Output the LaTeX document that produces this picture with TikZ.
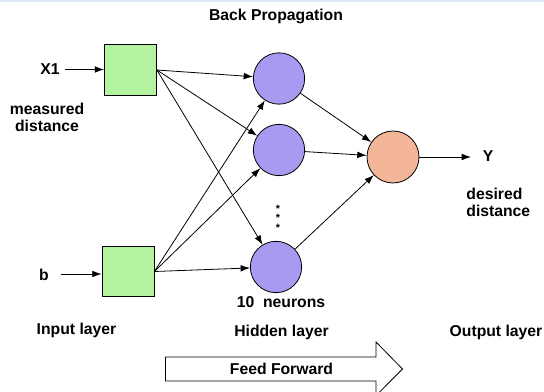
\documentclass[tikz,border=0pt]{standalone}
\usepackage{fontspec}
\setmainfont{Liberation Sans}
\usetikzlibrary{arrows.meta,positioning}
\definecolor{nnGreen}{HTML}{B4F4A0}
\definecolor{nnViolet}{HTML}{A89AF0}
\definecolor{nnSalmon}{HTML}{F4B698}
\definecolor{nnEdge}{HTML}{DDE8F4}

\begin{document}
\begin{tikzpicture}[x=0.75pt,y=-0.75pt,
      inp/.style={draw,fill=nnGreen,minimum width=39pt,minimum height=38pt,inner sep=0pt},
      hid/.style={draw,circle,fill=nnViolet,minimum size=38.5pt,inner sep=0pt},
      outn/.style={draw,circle,fill=nnSalmon,minimum size=39pt,inner sep=0pt},
      lbl/.style={font=\fontsize{11.8}{12.75}\selectfont\bfseries,inner sep=0pt,align=center},
      dotmark/.style={font=\fontsize{8}{8}\selectfont\bfseries,inner sep=0pt},
      wire/.style={-{Latex[length=7pt,width=5pt]},line width=0.6pt},
      line width=0.6pt]
    \useasboundingbox (0,0) rectangle (544,392);
    \fill[nnEdge] (0,0) rectangle (544,2);
    % layers
    \node[inp] (x1) at (130.5,70) {};
    \node[inp] (b) at (128,271.5) {};
    \node[hid] (h1) at (279,78.5) {};
    \node[hid] (h2) at (279,150) {};
    \node[hid] (h3) at (276,267) {};
    \node[outn] (out) at (393,157) {};
    % texts
    \node[lbl] (title) at (276,16) {Back Propagation};
    \node[lbl] (x1lbl) at (50,69) {X1};
    \node[lbl] (meas) at (47,117.5) {measured\\distance};
    \node[lbl] (blbl) at (44,275) {b};
    \node[lbl] (ylbl) at (488,156) {Y};
    \node[lbl,align=left,anchor=west] (des) at (466,202) {desired\\distance};
    \foreach \y/\n in {208.5/1,218/2,227.5/3}
      \node[dotmark] (dot\n) at (278,\y) {*};
    \node[lbl] (nn) at (281,302) {10~~neurons};
    \node[lbl] (inl) at (76.5,330) {Input layer};
    \node[lbl] (hidl) at (281.5,332) {Hidden layer};
    \node[lbl] (outl) at (496,332) {Output layer};
    % inputs and output
    \coordinate (x1in) at (65,69.5);
    \coordinate (bin) at (61,274);
    \coordinate (yout) at (471,157);
    \draw[wire] (x1in) -- (x1in -| x1.west);
    \draw[wire] (bin) -- (bin -| b.west);
    \draw[wire] (out.east) -- (yout);
    % connections
    \foreach \h in {h1,h2,h3}{
      \draw[wire] (x1.east) -- (\h);
      \draw[wire] (b.east) -- (\h);
      \draw[wire] (\h) -- (out);
    }
    % feed forward arrow
    \draw[line width=0.6pt] (165.5,357) -- (376,357) -- (376,342) -- (402.5,369)
      -- (376,395.6) -- (376,381) -- (165.5,381) -- cycle;
    \node[lbl] (ff) at (281.5,369) {Feed Forward};
  \end{tikzpicture}
\end{document}
